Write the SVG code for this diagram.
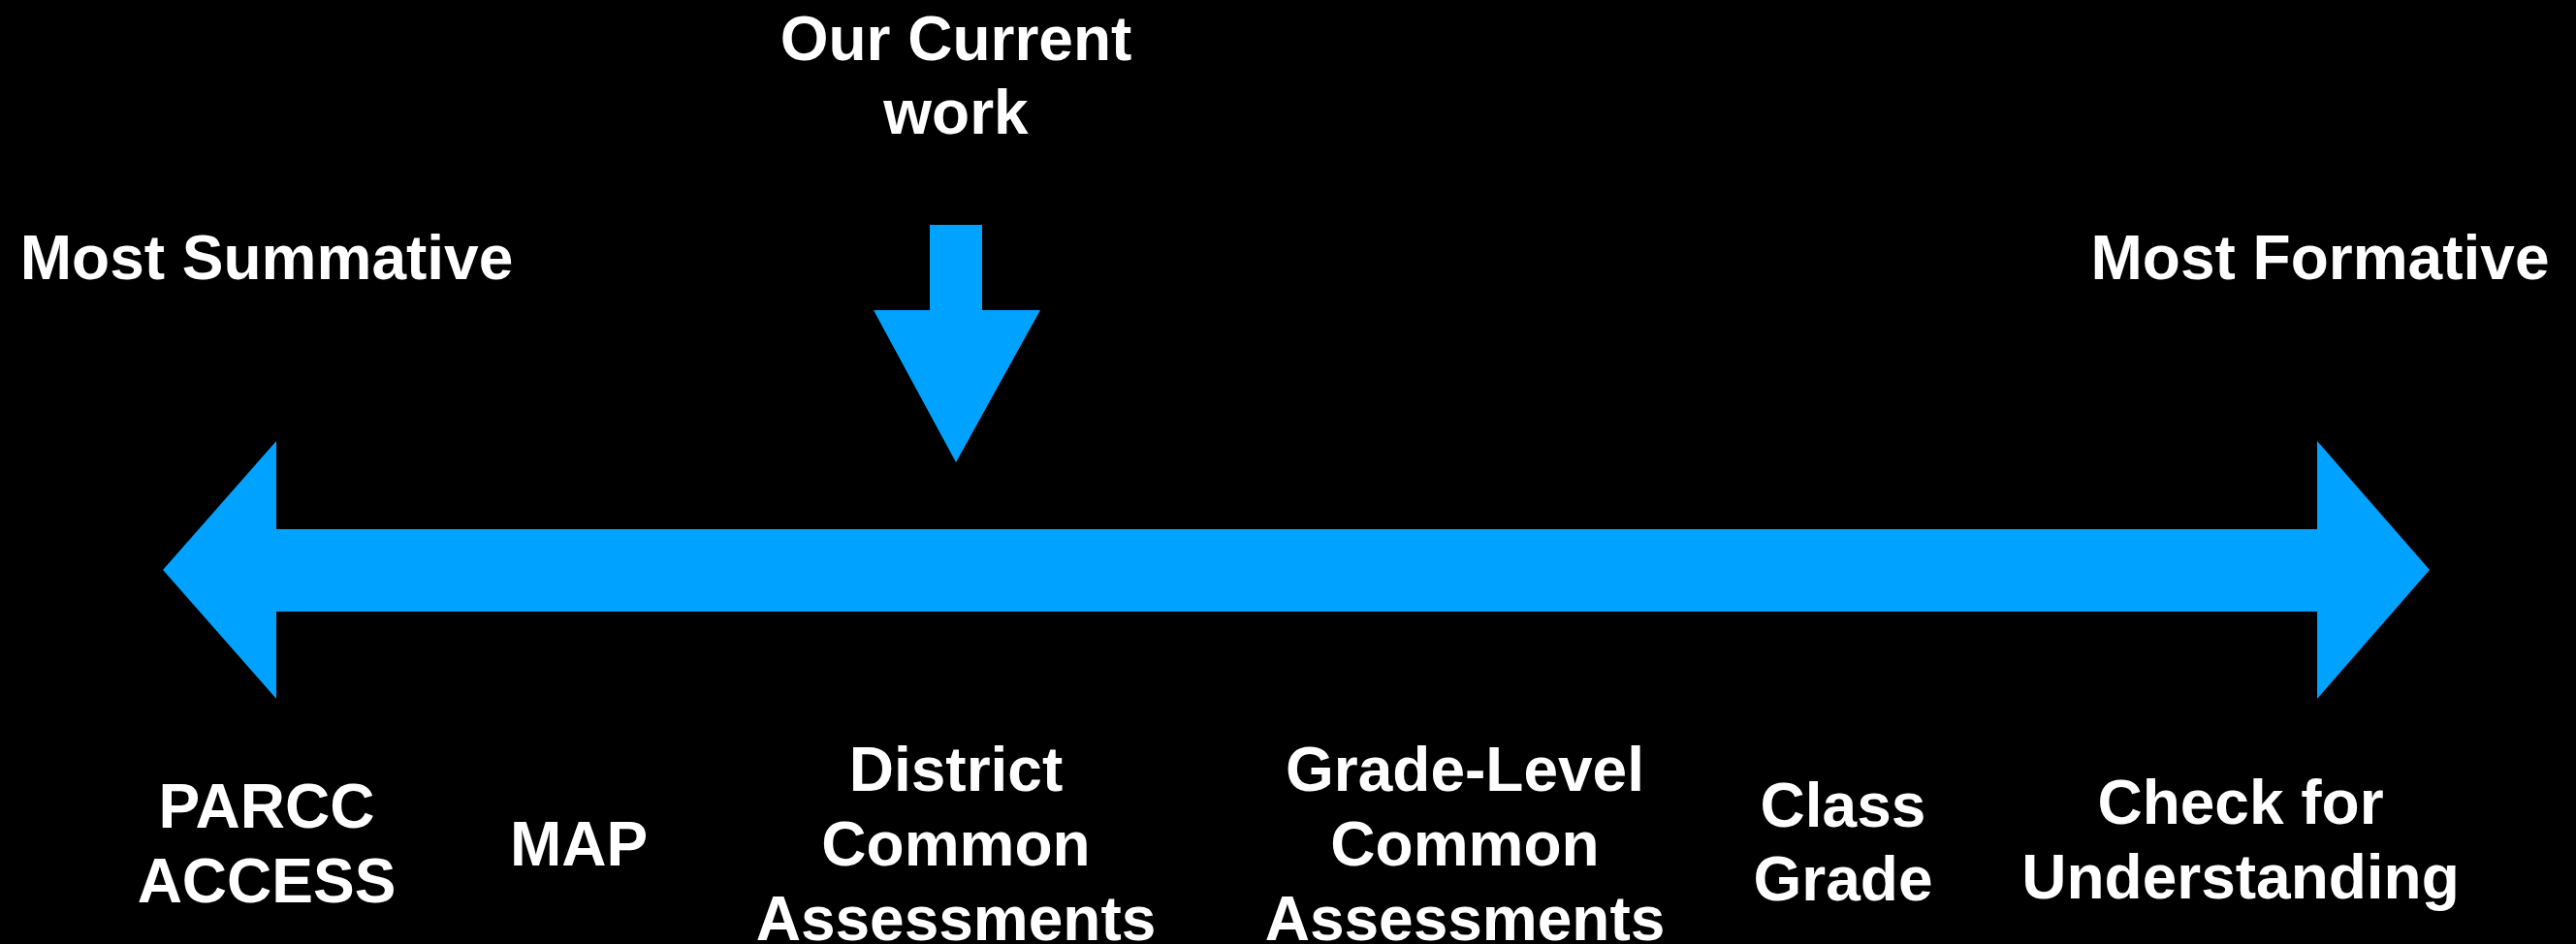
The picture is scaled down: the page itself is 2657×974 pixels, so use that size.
<svg xmlns="http://www.w3.org/2000/svg" width="2657" height="974" viewBox="0 0 2657 974">
<style>
.t{font-family:"Liberation Sans",Arial,Helvetica,sans-serif;font-weight:bold;font-size:64px;fill:#ffffff;text-anchor:middle}
.a{fill:#00A2FF}
</style>
<rect width="2657" height="974" fill="#000000"/>
<g id="connectors">
<polygon class="a" points="168,588 285,455 285,546 2390,546 2390,455 2506,588 2390,721 2390,631 285,631 285,721"/>
<polygon class="a" points="959,232 1013,232 1013,320 1073,320 986,477 901,320 959,320"/>
</g>
<g id="current"><text class="t" x="986" y="62">Our Current</text><text class="t" x="986" y="138">work</text></g>
<g id="summative"><text class="t" x="275" y="288">Most Summative</text></g>
<g id="formative"><text class="t" x="2393" y="288">Most Formative</text></g>
<g id="parcc"><text class="t" x="275" y="854">PARCC</text><text class="t" x="275" y="931">ACCESS</text></g>
<g id="map"><text class="t" x="597" y="893">MAP</text></g>
<g id="district"><text class="t" x="986" y="816">District</text><text class="t" x="986" y="893">Common</text><text class="t" x="986" y="970">Assessments</text></g>
<g id="gradelevel"><text class="t" x="1511" y="816">Grade-Level</text><text class="t" x="1511" y="893">Common</text><text class="t" x="1511" y="970">Assessments</text></g>
<g id="classgrade"><text class="t" x="1901" y="853">Class</text><text class="t" x="1901" y="929">Grade</text></g>
<g id="check"><text class="t" x="2311" y="850">Check for</text><text class="t" x="2311" y="927">Understanding</text></g>
</svg>
